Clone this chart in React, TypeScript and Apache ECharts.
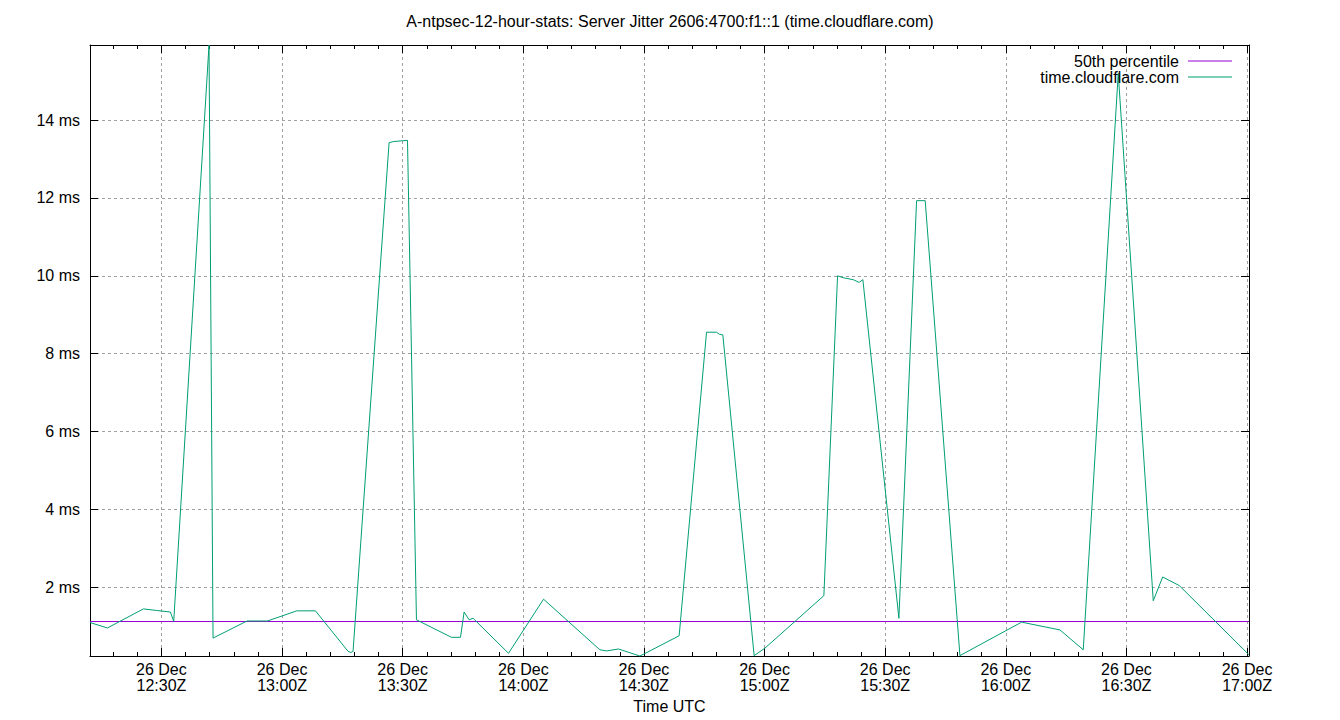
import React, { useEffect, useRef } from 'react';
import * as echarts from 'echarts';

const TITLE = 'A-ntpsec-12-hour-stats: Server Jitter 2606:4700:f1::1 (time.cloudflare.com)';
const X_NAME = 'Time UTC';
const DATE_LABEL = '26 Dec';
const PERCENTILE_NAME = '50th percentile';
const SERVER_NAME = 'time.cloudflare.com';

// minutes since 00:00 UTC, 26 Dec
const timesMin = [
  732.24, 736.57, 745.52, 748.76, 752.24, 753.06, 761.84, 762.84, 771.29, 776.37,
  783.66, 788.31, 796.42, 797.09, 797.66, 806.62, 807.79, 810.10, 811.20, 813.43,
  822.14, 824.38, 825.28, 826.52, 827.51, 836.32, 845.03, 859.03, 860.70, 863.68,
  868.98, 869.98, 878.76, 885.57, 888.06, 888.71, 889.63, 897.41, 900.08, 914.75,
  918.16, 919.55, 922.04, 923.53, 924.45, 933.41, 937.81, 939.95, 948.59, 963.93,
  973.46, 979.26, 987.96, 996.67, 999.01, 1003.14, 1020.48,
];
// jitter, ms
const jitterMs = [
  1.09, 0.95, 1.44, 1.40, 1.36, 1.12, 15.93, 0.69, 1.13, 1.13,
  1.39, 1.39, 0.35, 0.32, 0.35, 13.42, 13.45, 13.47, 13.48, 1.16,
  0.71, 0.71, 1.36, 1.16, 1.20, 0.30, 1.69, 0.39, 0.36, 0.41,
  0.23, 0.28, 0.75, 8.55, 8.55, 8.50, 8.48, 0.24, 0.43, 1.78,
  10.00, 9.95, 9.90, 9.83, 9.90, 1.20, 11.93, 11.93, 0.24, 1.10,
  0.90, 0.39, 15.20, 1.65, 2.26, 2.04, 0.26,
];
const percentileMs = 1.116;
const percentileTimes = [732.24, 1020.48];

const X_MIN = 732.24;
const X_MAX = 1020.48;
const Y_MIN = 0.23;
const Y_MAX = 15.93;
const X_STEP = 30;
const Y_STEP = 2;

const FONT = '"Liberation Sans", Arial, sans-serif';
const FS = 16;

function pad(n: number) {
  return n < 10 ? '0' + n : String(n);
}

function xLabel(v: number) {
  const r = Math.round(v / X_STEP);
  if (Math.abs(v - r * X_STEP) > 1e-6) return '';
  const total = Math.round(v);
  const h = Math.floor(total / 60);
  const m = total % 60;
  return `${DATE_LABEL}\n${h}:${pad(m)}Z`;
}

function yLabel(v: number) {
  const r = Math.round(v / Y_STEP);
  if (Math.abs(v - r * Y_STEP) > 1e-6) return '';
  return `${r * Y_STEP} ms`;
}

export default function App() {
  const ref = useRef<HTMLDivElement>(null);
  useEffect(() => {
    if (!ref.current) return;
    const chart = echarts.init(ref.current, undefined, { renderer: 'svg' });
    const jitterData = timesMin.map((t, i) => [t, jitterMs[i]]);
    const pctData = percentileTimes.map((t) => [t, percentileMs]);

    const axisLine = { show: true, lineStyle: { color: '#000', width: 1 } };
    const xCommon = {
      type: 'value',
      min: X_MIN,
      max: X_MAX,
      minInterval: X_STEP,
      maxInterval: X_STEP,
      splitNumber: 10,
      axisLine,
      axisTick: { show: true, inside: true, length: 8, lineStyle: { color: '#000' } },
      minorTick: { show: true, splitNumber: 5, length: 4, lineStyle: { color: '#000' } },
    };
    const yCommon = {
      type: 'value',
      min: Y_MIN,
      max: Y_MAX,
      minInterval: Y_STEP,
      maxInterval: Y_STEP,
      axisLine,
      axisTick: { show: true, inside: true, length: 8, lineStyle: { color: '#000' } },
    };
    const gridLine = { show: true, showMinLine: false, showMaxLine: false, lineStyle: { color: '#a0a0a0', type: [3, 3], width: 1 } };

    chart.setOption({
      animation: false,
      backgroundColor: '#fff',
      textStyle: { fontFamily: FONT },
      grid: { left: 90, right: 91, top: 45, bottom: 64, show: false },
      xAxis: [
        {
          ...xCommon,
          position: 'bottom',
          axisLabel: {
            show: true, formatter: xLabel, margin: 5, fontSize: FS, lineHeight: 16,
            color: '#000', fontFamily: FONT, showMinLabel: true, showMaxLabel: true,
          },
          splitLine: gridLine,
        },
        {
          ...xCommon,
          position: 'top',
          axisLabel: { show: false },
          splitLine: { show: false },
        },
      ],
      yAxis: [
        {
          ...yCommon,
          position: 'left',
          axisLabel: { show: true, formatter: yLabel, margin: 10, fontSize: FS, color: '#000', fontFamily: FONT },
          splitLine: gridLine,
        },
        {
          ...yCommon,
          position: 'right',
          axisLabel: { show: false },
          splitLine: { show: false },
        },
      ],
      legend: {
        orient: 'vertical',
        right: 108,
        top: 53,
        padding: 0,
        align: 'right',
        icon: 'rect',
        itemWidth: 44,
        itemHeight: 1,
        itemGap: 0,
        selectedMode: false,
        textStyle: { fontSize: FS, lineHeight: 15, color: '#000', fontFamily: FONT, padding: [0, 4, 0, 0] },
        data: [
          { name: PERCENTILE_NAME, itemStyle: { color: '#9400d3' } },
          { name: SERVER_NAME, itemStyle: { color: '#009e73' } },
        ],
      },
      graphic: [
        {
          type: 'text', x: 670, y: 21,
          style: { text: TITLE, fontSize: FS, fontFamily: FONT, fill: '#000', align: 'center', verticalAlign: 'middle' },
        },
        {
          type: 'text', x: 669.5, y: 706,
          style: { text: X_NAME, fontSize: FS, fontFamily: FONT, fill: '#000', align: 'center', verticalAlign: 'middle' },
        },
      ],
      series: [
        {
          name: PERCENTILE_NAME,
          type: 'line',
          data: pctData,
          showSymbol: false,
          symbol: 'none',
          color: '#9400d3',
          lineStyle: { color: '#9400d3', width: 1 },
          silent: true,
        },
        {
          name: SERVER_NAME,
          type: 'line',
          data: jitterData,
          showSymbol: false,
          symbol: 'none',
          color: '#009e73',
          lineStyle: { color: '#009e73', width: 1 },
          silent: true,
        },
      ],
    } as any);
    return () => chart.dispose();
  }, []);
  return <div ref={ref} style={{ position: 'absolute', left: 0, top: 0, width: 1340, height: 720, background: '#fff' }} />;
}
